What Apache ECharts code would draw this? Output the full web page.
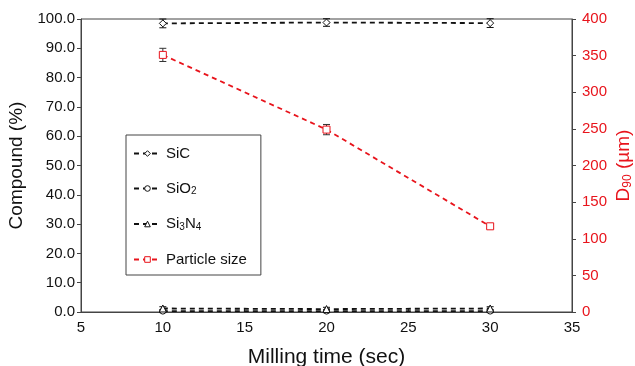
<!DOCTYPE html>
<html>
<head>
<meta charset="utf-8">
<script src="https://cdn.jsdelivr.net/npm/echarts@6/dist/echarts.min.js"></script>
<style>
  html, body { margin: 0; padding: 0; background: #fff; }
  #main { width: 635px; height: 366px; }
</style>
</head>
<body>
<div id="main"></div>
<script>
// 研磨时间
var times = [10, 20, 30];
// 成分 (%)
var sic = [98.5, 98.8, 98.6];
var sicErr = [1.5, 1.3, 1.5];
var sio2 = [0.3, 0.3, 0.3];
var sio2Err = [0.5, 0.5, 0.5];
var si3n4 = [1.2, 1.0, 1.2];
var si3n4Err = [0.6, 0.6, 0.6];
// 粒径 D90 (µm)
var d90 = [351, 249, 117];
var d90Err = [9, 7, 3];

var red = "#e8141c";
var font = "'Liberation Sans', Arial, sans-serif";

function pairs(ys) {
  return times.map(function (t, i) { return [t, ys[i]]; });
}
function errData(ys, es) {
  return times.map(function (t, i) { return [t, ys[i] - es[i], ys[i] + es[i]]; });
}
// 误差棒
function errSeries(ys, es, color, yIndex) {
  return {
    type: "custom",
    yAxisIndex: yIndex,
    silent: true,
    z: 1,
    data: errData(ys, es),
    renderItem: function (params, api) {
      var lo = api.coord([api.value(0), api.value(1)]);
      var hi = api.coord([api.value(0), api.value(2)]);
      var w = 3.5;
      var st = { stroke: color, lineWidth: 1 };
      return {
        type: "group",
        children: [
          { type: "line", shape: { x1: lo[0], y1: lo[1], x2: hi[0], y2: hi[1] }, style: st },
          { type: "line", shape: { x1: lo[0] - w, y1: lo[1], x2: lo[0] + w, y2: lo[1] }, style: st },
          { type: "line", shape: { x1: hi[0] - w, y1: hi[1], x2: hi[0] + w, y2: hi[1] }, style: st }
        ]
      };
    }
  };
}
function lineSeries(name, ys, symbol, color, yIndex, size) {
  return {
    name: name,
    type: "line",
    yAxisIndex: yIndex,
    data: pairs(ys),
    symbol: symbol,
    symbolSize: size,
    showAllSymbol: true,
    z: 3,
    itemStyle: { color: "#fff", borderColor: color, borderWidth: 1 },
    lineStyle: { color: color, width: 1.8, type: [5, 4] }
  };
}

var myChart = echarts.init(document.getElementById("main"));
var option = {
  animation: false,
  textStyle: { fontFamily: font },
  grid: {
    left: 81, right: 63, top: 19, bottom: 54,
    outerBoundsMode: "none",
    containLabel: false,
    show: true, borderColor: "#444", borderWidth: 1
  },
  legend: {
    orient: "vertical",
    left: 126, top: 135,
    padding: [11, 14, 8, 7],
    itemGap: 20,
    itemWidth: 27,
    itemHeight: 7,
    borderColor: "#444",
    borderWidth: 1,
    borderRadius: 0,
    itemStyle: { color: "#fff", borderWidth: 1 },
    data: ["SiC", "SiO2", "Si3N4", "Particle size"],
    textStyle: {
      fontSize: 15, color: "#111", fontFamily: font,
      rich: {
        n: { fontSize: 15, color: "#111", fontFamily: font },
        s: { fontSize: 10, color: "#111", fontFamily: font, verticalAlign: "bottom", padding: [6, 0, 0, 0] }
      }
    },
    formatter: function (name) {
      if (name === "SiO2") return "{n|SiO}{s|2}";
      if (name === "Si3N4") return "{n|Si}{s|3}{n|N}{s|4}";
      return "{n|" + name + "}";
    }
  },
  xAxis: {
    type: "value",
    min: 5, max: 35, interval: 5,
    name: "Milling time (sec)",
    nameLocation: "middle",
    nameGap: 35,
    nameTextStyle: { fontSize: 21, color: "#111", fontFamily: font },
    axisLine: { lineStyle: { color: "#444" } },
    axisTick: { inside: true, length: 4, lineStyle: { color: "#444" } },
    axisLabel: { fontSize: 15, color: "#111", fontFamily: font, margin: 8 },
    splitLine: { show: false }
  },
  yAxis: [{
    type: "value",
    min: 0, max: 100, interval: 10,
    name: "Compound (%)",
    nameLocation: "middle",
    nameGap: 52,
    nameTextStyle: { fontSize: 19, color: "#111", fontFamily: font },
    axisLine: { show: true, lineStyle: { color: "#444" } },
    axisTick: { show: true, length: 4, lineStyle: { color: "#444" } },
    axisLabel: { fontSize: 15, color: "#111", fontFamily: font, margin: 6, formatter: function (v) { return v.toFixed(1); } },
    splitLine: { show: false }
  }, {
    type: "value",
    position: "right",
    min: 0, max: 400, interval: 50,
    name: "{n|D}{s|90}{n| (µm)}",
    nameLocation: "middle",
    nameGap: 42,
    nameMoveOverlap: false,
    nameRotate: 90,
    nameTextStyle: {
      fontSize: 19, color: red, fontFamily: font,
      rich: {
        n: { fontSize: 19, color: red, fontFamily: font },
        s: { fontSize: 12, color: red, fontFamily: font, verticalAlign: "bottom", padding: [8, 0, 0, 0] }
      }
    },
    axisLine: { show: true, lineStyle: { color: "#444" } },
    axisTick: { show: true, length: 4, lineStyle: { color: "#444" } },
    axisLabel: { fontSize: 15, color: red, fontFamily: font, margin: 10 },
    splitLine: { show: false }
  }],
  series: [
    errSeries(sic, sicErr, "#111", 0),
    errSeries(sio2, sio2Err, "#111", 0),
    errSeries(si3n4, si3n4Err, "#111", 0),
    errSeries(d90, d90Err, "#333", 1),
    lineSeries("SiC", sic, "diamond", "#111", 0, 7),
    lineSeries("SiO2", sio2, "circle", "#111", 0, 6),
    lineSeries("Si3N4", si3n4, "triangle", "#111", 0, 7),
    lineSeries("Particle size", d90, "rect", red, 1, 7)
  ]
};
myChart.setOption(option);
window.addEventListener("resize", function () {
  myChart.resize();
});
</script>
</body>
</html>
